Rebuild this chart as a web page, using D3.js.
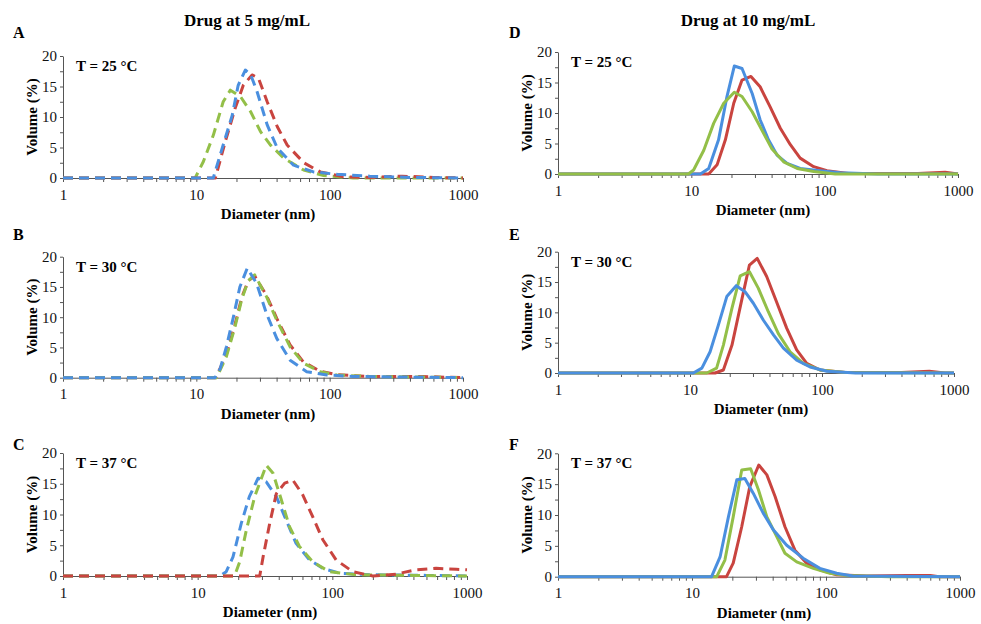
<!DOCTYPE html>
<html>
<head>
    <meta charset='utf-8'>
    <title>DLS size distributions</title>
    <script src='https://cdn.jsdelivr.net/npm/d3@7'></script>
    <style>
        body { margin: 0; background: #fff; }
        svg, svg text { font-family: "Liberation Serif", "Times New Roman", Times, "DejaVu Serif", serif !important; }
    </style>
</head>
<body>
<svg width='981' height='624'></svg>
<script>
    // diameter (nm), volume (%) pairs
    const A_green = [[1,0],[9.8,0],[11.3,2.7],[13.4,7.0],[15.9,12.5],[18,14.4],[21.5,13.3],[25.5,10.9],[30.3,7.6],[36,5.4],[45,3.3],[63.8,1.3],[90,0.4],[150,0],[1000,0]]
    const A_red = [[1,0],[13.9,0],[16.5,6.0],[19.6,11.5],[22.5,15.2],[26.2,16.9],[29.2,16.4],[34,12.5],[40.5,8.4],[48,5.4],[64,2.5],[85,1.0],[127,0.2],[200,0.1],[350,0.3],[600,0.1],[1000,0]]
    const A_blue = [[1,0],[13.4,0],[15.1,3.8],[18.6,10.3],[20.6,15.2],[23.3,17.7],[25.5,17.0],[28.6,14.1],[34,8.7],[40.5,4.9],[53.6,2.1],[75.6,1.0],[114,0.6],[200,0.3],[400,0.1],[1000,0]]

    const B_red = [[1,0],[14,0],[16.8,3.8],[19.5,8.8],[22,13.4],[24.5,16.0],[27.4,16.8],[33.6,13.6],[40.1,9.8],[50.5,5.4],[63.5,2.6],[84.5,1.1],[113,0.5],[200,0.2],[500,0.2],[1000,0]]
    const B_green = [[1,0],[14.2,0],[16.8,3.5],[19.5,8.4],[22,13.1],[24.5,16.0],[27.4,17.0],[33.6,13.4],[40.1,9.5],[50.5,5.1],[63.5,2.4],[84.5,1.0],[113,0.45],[200,0.2],[500,0.1],[1000,0]]
    const B_blue = [[1,0],[13.8,0],[15.1,1.5],[16.8,5.1],[19,10.1],[21.2,15],[24.1,18.1],[28.3,15.6],[33.6,10.6],[40.1,6.5],[50.5,2.9],[67.3,1.0],[95,0.45],[150,0.2],[400,0.1],[1000,0]]

    const C_blue = [[1,0],[14.6,0],[16.3,0.7],[18.3,3.1],[21.1,8.6],[24.2,12.9],[28.1,15.9],[32.3,15.3],[38.4,12.9],[45.4,9.1],[53.8,5.3],[67.8,2.6],[85,1.25],[113,0.45],[200,0.2],[500,0.1],[1000,0]]
    const C_green = [[1,0],[18.8,0],[20.5,2.3],[23,7.5],[26.5,12.9],[32.3,18.0],[36.3,16.7],[41.8,12.4],[48.1,8.0],[57,4.8],[71.6,2.3],[95,0.7],[150,0.2],[400,0.1],[1000,0]]
    const C_red = [[1,0],[28.9,0],[30.6,3.1],[34.3,8.6],[38.4,13.4],[44.3,15.1],[50.9,15.6],[60.3,13.2],[71.6,9.6],[85,5.9],[106.7,2.6],[142,0.7],[200,0],[296,0.3],[418,1.0],[590,1.25],[830,1.1],[1000,1.0]]

    const D_red = [[1,0],[13.5,0],[15.6,1.5],[18,5.6],[20.8,11.6],[24,15.4],[28,16.0],[32.8,14.3],[39,11.0],[46.5,7.5],[55.3,4.8],[65.5,2.6],[82.7,1.2],[104,0.55],[150,0.1],[500,0.1],[800,0.3],[1000,0]]
    const D_blue = [[1,0],[11.7,0],[13.5,0.9],[16,5.6],[18.5,12.7],[21,17.7],[24,17.3],[28.6,13.2],[32.8,8.9],[37.9,5.6],[43.9,3.1],[52.3,1.75],[65.5,0.9],[92,0.55],[131,0.2],[250,0],[1000,0]]
    const D_green = [[1,0],[9.5,0],[10.4,0.65],[12.4,3.9],[14.7,8.3],[17.5,11.6],[21,13.4],[24,12.7],[28.6,10.2],[33.8,7.2],[40,4.2],[49.2,2.0],[62.2,0.9],[82.7,0.4],[120,0],[1000,0]]

    const E_red = [[1,0],[15.5,0],[17.9,0.5],[20.8,4.6],[24.8,12.3],[28.2,17.8],[32.3,18.9],[38.1,15.9],[45.3,11.7],[54,7.4],[64.3,3.8],[76.6,1.6],[96.6,0.5],[150,0.1],[400,0.1],[650,0.3],[850,0],[1000,0]]
    const E_green = [[1,0],[13.4,0],[15.9,0.8],[17.9,4.6],[20.8,10.7],[24,16.0],[28.2,16.7],[32.9,14.0],[39.2,10.1],[46.7,6.5],[57.3,3.5],[72.2,1.6],[96.6,0.5],[150,0.1],[1000,0]]
    const E_blue = [[1,0],[10.6,0],[12.3,0.8],[14.2,3.5],[16.4,7.9],[19,12.6],[22.4,14.4],[26.1,13.4],[30.2,11.5],[36,8.7],[42.9,6.3],[51,4.1],[64.3,2.1],[81.2,1.0],[109,0.3],[180,0],[1000,0]]

    const F_red = [[1,0],[18.1,0],[20.3,2.2],[23.5,8.1],[27,14.6],[31.5,18.1],[36.2,16.5],[41.7,13.0],[49.4,8.1],[58.6,4.3],[71.7,2.2],[90,1.1],[120,0.3],[200,0.1],[400,0.2],[600,0.2],[700,0],[1000,0]]
    const F_green = [[1,0],[15.3,0],[17.6,2.7],[20.3,9.7],[23.5,17.3],[27.4,17.5],[31.3,14.1],[36.2,9.7],[42.9,6.5],[49.4,3.8],[60.4,2.4],[80.4,1.35],[107,0.55],[143,0.2],[300,0],[1000,0]]
    const F_blue = [[1,0],[14,0],[16.2,3.2],[18.7,9.7],[21.6,15.7],[24.8,15.9],[28.7,13.5],[34,10.3],[40.4,7.6],[50.9,5.1],[67.5,3.0],[90,1.35],[120,0.55],[158,0.1],[1000,0]]

    const xMajor = [1, 10, 100, 1000]
    const yTicks = [0, 2.5, 5, 7.5, 10, 12.5, 15, 17.5, 20]
    const yLabels = [0, 5, 10, 15, 20]
    const columnTitles = ['Drug at 5 mg/mL', 'Drug at 10 mg/mL']

    const RED = '#c9443f', GREEN = '#93bf48', BLUE = '#4a8fdf'
    const FONT = '"Liberation Serif", "Times New Roman", "DejaVu Serif", serif'

    const panels = [
        { letter: 'A', temp: 'T = 25 °C', dashed: true, x0: 63, x1: 463, yb: 178, yt: 56, lx: 13, ly: 38,
          series: [[A_green, GREEN], [A_red, RED], [A_blue, BLUE]] },
        { letter: 'B', temp: 'T = 30 °C', dashed: true, x0: 63, x1: 463, yb: 377.7, yt: 256.7, lx: 13, ly: 240,
          series: [[B_red, RED], [B_green, GREEN], [B_blue, BLUE]] },
        { letter: 'C', temp: 'T = 37 °C', dashed: true, x0: 63, x1: 467, yb: 576, yt: 453, lx: 13, ly: 450,
          series: [[C_blue, BLUE], [C_green, GREEN], [C_red, RED]] },
        { letter: 'D', temp: 'T = 25 °C', dashed: false, x0: 558, x1: 958, yb: 174, yt: 52, lx: 509, ly: 38,
          series: [[D_red, RED], [D_blue, BLUE], [D_green, GREEN]] },
        { letter: 'E', temp: 'T = 30 °C', dashed: false, x0: 558, x1: 954, yb: 373, yt: 251.7, lx: 509, ly: 240,
          series: [[E_red, RED], [E_green, GREEN], [E_blue, BLUE]] },
        { letter: 'F', temp: 'T = 37 °C', dashed: false, x0: 558, x1: 960, yb: 576.7, yt: 453.3, lx: 509, ly: 450,
          series: [[F_red, RED], [F_green, GREEN], [F_blue, BLUE]] }
    ]

    const svg = d3.select('svg').attr('font-family', FONT)

    // column titles
    svg.append('text').attr('x', 247).attr('y', 26).attr('text-anchor', 'middle')
        .attr('font-size', 17).attr('font-weight', 'bold').text(columnTitles[0])
    svg.append('text').attr('x', 748).attr('y', 26).attr('text-anchor', 'middle')
        .attr('font-size', 17).attr('font-weight', 'bold').text(columnTitles[1])

    // every 1..9 x 10^k between 1 and 1000 for minor ticks
    const xAll = []
    xMajor.slice(0, 3).forEach(p => [1,2,3,4,5,6,7,8,9].forEach(m => xAll.push(p * m)))
    xAll.push(1000)

    panels.forEach(p => {
        const x = d3.scaleLog().domain([1, 1000]).range([p.x0, p.x1])
        const y = d3.scaleLinear().domain([0, 20]).range([p.yb, p.yt])
        const g = svg.append('g')

        // y axis
        const ya = g.append('g').attr('transform', `translate(${p.x0},0)`)
            .call(d3.axisLeft(y).tickValues(yTicks).tickSizeInner(3).tickSizeOuter(0).tickPadding(3)
                .tickFormat(d => yLabels.includes(d) ? d : ''))
        // x axis
        const xa = g.append('g').attr('transform', `translate(0,${p.yb})`)
            .call(d3.axisBottom(x).tickValues(xAll).tickSizeInner(4).tickSizeOuter(0).tickPadding(7)
                .tickFormat(d => xMajor.includes(d) ? d : ''))
        ;[ya, xa].forEach(a => {
            a.attr('font-family', FONT)
            a.select('.domain').attr('stroke', '#555')
            a.selectAll('.tick line').attr('stroke', '#555')
            a.selectAll('.tick text').attr('font-size', 15).attr('fill', '#111')
        })

        // data lines
        const line = d3.line().x(d => x(d[0])).y(d => y(d[1]))
        p.series.forEach(([data, color]) => {
            g.append('path').datum(data)
                .attr('d', line)
                .attr('fill', 'none')
                .attr('stroke', color)
                .attr('stroke-width', 3)
                .attr('stroke-linejoin', 'round')
                .attr('stroke-dasharray', p.dashed ? '10,6' : null)
        })

        // labels
        g.append('text').attr('x', p.lx).attr('y', p.ly).attr('font-size', 16).attr('font-weight', 'bold').text(p.letter)
        g.append('text').attr('x', p.x0 + 13).attr('y', p.yt + 15).attr('font-size', 15).attr('font-weight', 'bold').text(p.temp)
        g.append('text').attr('x', (p.x0 + p.x1) / 2 + 5).attr('y', p.yb + 41)
            .attr('text-anchor', 'middle').attr('font-size', 15).attr('font-weight', 'bold').text('Diameter (nm)')
        g.append('text')
            .attr('transform', `translate(${p.x0 - 26},${(p.yb + p.yt) / 2}) rotate(-90)`)
            .attr('text-anchor', 'middle').attr('font-size', 15).attr('font-weight', 'bold').text('Volume (%)')
    })
</script>
</body>
</html>
